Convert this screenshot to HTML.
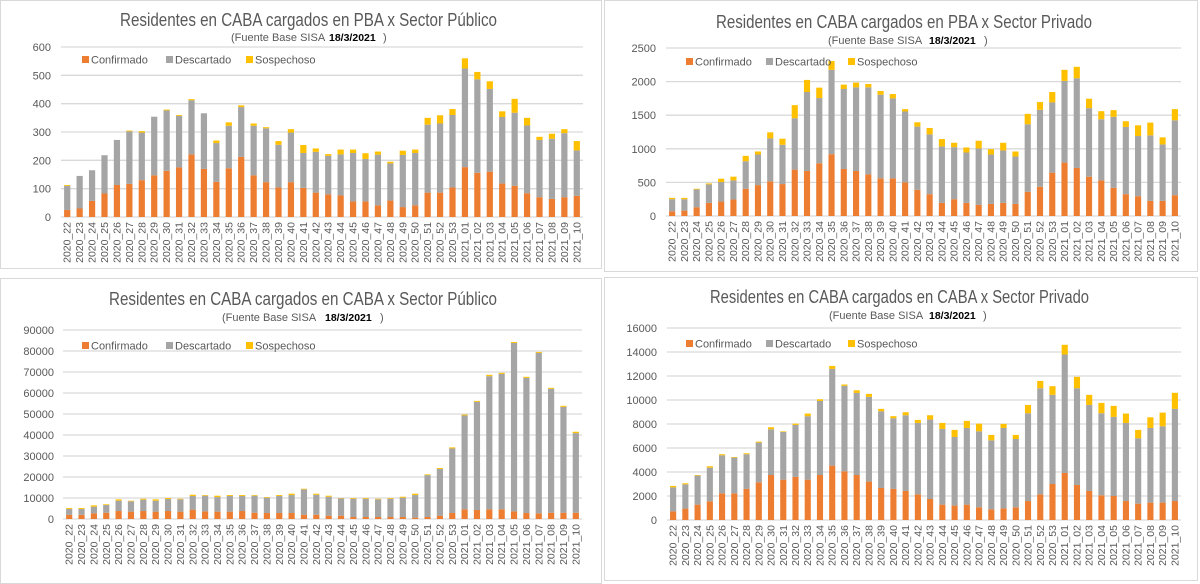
<!DOCTYPE html>
<html><head><meta charset="utf-8"><style>
html,body{margin:0;padding:0;background:#fff;width:1200px;height:584px;overflow:hidden}
svg{display:block;font-family:"Liberation Sans",sans-serif}
</style></head><body>
<svg id="root" width="1200" height="584" viewBox="0 0 1200 584"></svg>
<script>
const categories=["2020_22","2020_23","2020_24","2020_25","2020_26","2020_27","2020_28","2020_29","2020_30","2020_31","2020_32","2020_33","2020_34","2020_35","2020_36","2020_37","2020_38","2020_39","2020_40","2020_41","2020_42","2020_43","2020_44","2020_45","2020_46","2020_47","2020_48","2020_49","2020_50","2020_51","2020_52","2020_53","2021_01","2021_02","2021_03","2021_04","2021_05","2021_06","2021_07","2021_08","2021_09","2021_10"];
const seriesNames=["Confirmado","Descartado","Sospechoso"];
// Chart 1: PBA Público
const pbaPubConf=[25,30,57,83,113,117,130,147,163,175,221,170,124,172,212,147,123,104,123,103,86,80,76,55,55,41,58,35,41,86,86,104,176,156,160,118,110,84,70,64,70,75];
const pbaPubDesc=[85,115,108,135,159,185,168,207,213,182,191,196,137,150,176,175,190,151,175,123,144,136,145,171,150,179,131,184,185,240,244,256,348,330,292,235,258,239,202,212,226,160];
const pbaPubSosp=[3,0,0,0,0,3,5,0,3,3,4,0,9,12,6,8,4,13,12,28,12,6,17,12,20,11,6,15,12,24,29,21,36,26,27,20,49,27,11,18,14,33];
const pbaPubTicks=[0,100,200,300,400,500,600];
// Chart 2: PBA Privado
const pbaPrivConf=[70,80,130,195,215,245,405,460,515,475,690,670,785,920,700,670,620,560,560,500,390,325,195,250,195,165,180,195,180,360,435,645,795,715,585,530,420,325,295,225,225,310];
const pbaPrivDesc=[180,170,265,275,290,285,410,455,640,585,765,1175,970,1255,1190,1245,1295,1245,1190,1055,940,890,840,775,750,840,735,780,705,1005,1145,1045,1215,1335,1020,910,1055,1000,895,975,840,1115];
const pbaPrivSosp=[20,20,10,15,50,55,80,45,90,90,195,180,155,130,65,70,50,55,65,35,65,95,110,65,75,115,80,115,75,155,115,155,165,170,140,120,100,85,160,190,105,165];
const pbaPrivTicks=[0,500,1000,1500,2000,2500];
// Chart 3: CABA Público
const cabaPubConf=[2000,2000,2700,3000,3800,3500,3800,3500,3800,3500,4450,3650,3500,3500,3800,3000,2850,2850,2850,2050,2050,1600,1600,950,950,950,950,950,650,950,1600,2850,4600,4300,4600,4600,3650,2850,2700,3000,3000,3000];
const cabaPubDesc=[2750,2750,3150,3650,4900,4900,5400,5200,5700,5850,6500,7450,6950,7450,7150,8100,7300,8100,8550,12050,9500,9000,8200,8700,8700,8400,8700,9200,10750,19950,22200,30750,44700,51500,63400,64500,80200,64350,76400,59000,50400,37900];
const cabaPubSosp=[450,450,650,350,650,300,450,650,500,300,600,300,650,450,450,300,300,450,650,300,500,500,200,350,350,300,350,450,650,350,450,500,450,450,650,500,450,500,450,450,500,650];
const cabaPubTicks=[0,10000,20000,30000,40000,50000,60000,70000,80000,90000];
// Chart 4: CABA Privado
const cabaPrivConf=[720,950,1280,1560,2220,2220,2590,3140,3750,3360,3590,3360,3750,4530,4060,3750,3200,2670,2590,2420,2140,1750,1280,1200,1280,1060,890,970,1060,1580,2140,3000,3920,2920,2420,2060,2000,1580,1360,1450,1450,1580];
const cabaPrivDesc=[2000,2020,2420,2800,3170,2980,2890,3310,3810,3980,4330,5290,6170,8060,7120,6840,7060,6390,5890,6310,5950,6620,6310,5720,6390,6330,5750,6700,5690,7320,8840,7430,9870,8060,7170,6840,6590,6510,5450,6220,6360,7680];
const cabaPrivSosp=[120,90,50,120,90,50,80,80,170,50,110,220,140,250,110,220,250,200,170,250,250,360,500,590,590,640,450,340,340,690,610,720,810,950,840,860,920,780,700,890,1140,1340];
const cabaPrivTicks=[0,2000,4000,6000,8000,10000,12000,14000,16000];

const NS="http://www.w3.org/2000/svg";
const root=document.getElementById('root');
const COLORS=["#ED7D31","#A5A5A5","#FFC000"];
function mk(tag,attrs,parent,text){const e=document.createElementNS(NS,tag);for(const k in attrs)e.setAttribute(k,attrs[k]);if(text!==undefined)e.textContent=text;parent.appendChild(e);return e;}

function chart(cfg){
  const g=mk('g',{},root);
  
  
  const fr=mk('rect',{x:cfg.frame[0]+0.5,y:cfg.frame[1]+0.5,width:cfg.frame[2]-cfg.frame[0],height:cfg.frame[3]-cfg.frame[1],fill:'#fff',stroke:'#d9d9d9','stroke-width':1},g);
  
  
  const t=mk('text',{x:cfg.titleX[0],y:cfg.titleY,'font-size':18,fill:'#595959',textLength:cfg.titleX[1]-cfg.titleX[0],lengthAdjust:'spacingAndGlyphs'},g,cfg.title);
  
  
  const s=mk('text',{x:cfg.sub[0],y:cfg.subY,'font-size':11,fill:'#595959'},g);
  
  
  mk('tspan',{},s,'(Fuente  Base SISA ');
  mk('tspan',{x:cfg.sub[1],'font-weight':'bold',fill:'#000','font-size':10.5},s,'18/3/2021');
  mk('tspan',{x:cfg.sub[2]},s,')');
  const ticks=cfg.ticks, max=ticks[ticks.length-1];
  const yS=v=>cfg.y0-(v/max)*(cfg.y0-cfg.yTop);
  const n=categories.length, step=(cfg.x1-cfg.x0)/n;
  const xC=i=>cfg.x0+step*(i+0.5);
  ticks.forEach(v=>{
    const ln=mk('line',{x1:cfg.x0,x2:cfg.x1,y1:yS(v),y2:yS(v),stroke:'#d9d9d9','stroke-width':1.3},g);
    
    
    const tl=mk('text',{x:cfg.labX,y:yS(v)+4,'text-anchor':'end','font-size':11,fill:'#595959'},g,String(v));
    
    
  });
  const bw=step*0.5;
  categories.forEach((c,i)=>{
    let base=0;
    cfg.series.forEach((arr,k)=>{
      const v=arr[i];
      if(v>0){
        const r=mk('rect',{x:xC(i)-bw/2,y:yS(base+v),width:bw,height:yS(base)-yS(base+v),fill:COLORS[k]},g);
        
        
      }
      base+=v;
    });
    const lx=xC(i)+3.5, ly=cfg.y0+5;
    const xl=mk('text',{x:lx,y:ly,'text-anchor':'end','font-size':10.5,fill:'#595959',transform:`rotate(-90 ${lx} ${ly})`},g,c);
    
    
  });
  seriesNames.forEach((nm,k)=>{
    const lg=mk('g',{},g);
    
    
    const lx=cfg.legX[k];
    mk('rect',{x:lx,y:cfg.legY-4,width:7,height:7,fill:COLORS[k]},lg);
    mk('text',{x:lx+9,y:cfg.legY+3.5,'font-size':11,fill:'#595959'},lg,nm);
  });
}

chart({name:'chart-pba-publico',frame:[0,0,601,268],title:'Residentes en CABA cargados en PBA x Sector Público',titleX:[120,497],titleY:26,sub:[231,329,383],subY:41,
  ticks:pbaPubTicks,y0:217,yTop:47,x0:61,x1:583,labX:51,legX:[82,166,246],legY:60,series:[pbaPubConf,pbaPubDesc,pbaPubSosp]});
chart({name:'chart-pba-privado',frame:[604,0,1197,271],title:'Residentes en CABA cargados en PBA x Sector Privado',titleX:[716,1092],titleY:28,sub:[828,929,984],subY:44,
  ticks:pbaPrivTicks,y0:216,yTop:48,x0:666,x1:1181,labX:656,legX:[686,766,848],legY:62,series:[pbaPrivConf,pbaPrivDesc,pbaPrivSosp]});
chart({name:'chart-caba-publico',frame:[0,278,601,583],title:'Residentes en CABA cargados en CABA x Sector Público',titleX:[109,497],titleY:305,sub:[222,325,380],subY:321,
  ticks:cabaPubTicks,y0:519,yTop:330,x0:63,x1:582,labX:54,legX:[82,166,246],legY:346,series:[cabaPubConf,cabaPubDesc,cabaPubSosp]});
chart({name:'chart-caba-privado',frame:[604,277,1197,580],title:'Residentes en CABA cargados en CABA x Sector Privado',titleX:[710,1089],titleY:303,sub:[829,929,983],subY:319,
  ticks:cabaPrivTicks,y0:520,yTop:328,x0:667,x1:1181,labX:657,legX:[686,766,848],legY:344,series:[cabaPrivConf,cabaPrivDesc,cabaPrivSosp]});
</script>
</body></html>
